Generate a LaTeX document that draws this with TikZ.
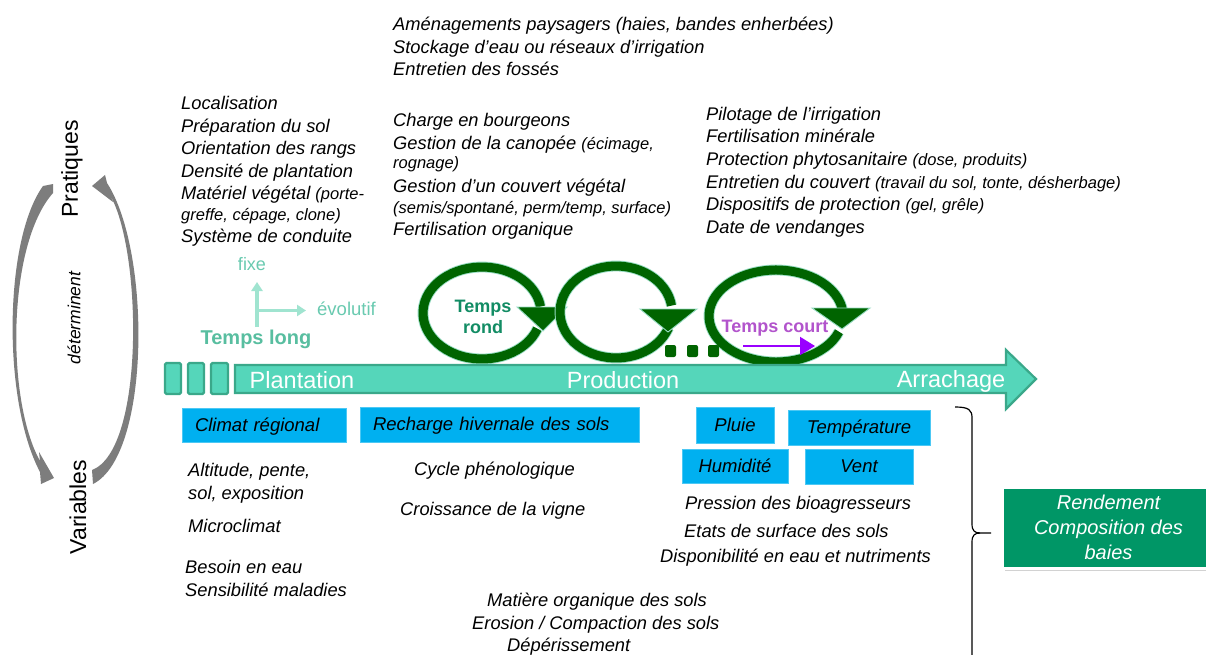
\documentclass[tikz,border=0pt]{standalone}
\usepackage{fontspec}
\setmainfont{Liberation Sans}
\usetikzlibrary{arrows.meta,shadows}
\definecolor{mint}{RGB}{85,214,186}
\definecolor{mintdark}{RGB}{58,168,138}
\definecolor{mintlight}{RGB}{160,228,208}
\definecolor{tealtxt}{RGB}{105,202,176}
\definecolor{teallong}{RGB}{88,190,160}
\definecolor{ringgreen}{RGB}{0,100,0}
\definecolor{ringedge}{RGB}{150,220,195}
\definecolor{rondtxt}{RGB}{18,140,100}
\definecolor{courttxt}{RGB}{178,84,204}
\definecolor{purplearrow}{RGB}{153,0,255}
\definecolor{bluebox}{RGB}{0,176,240}
\definecolor{resgreen}{RGB}{0,150,102}
\definecolor{arcgray}{RGB}{125,125,125}
\newcommand{\smtxt}[1]{{\fontsize{16.5}{20}\selectfont #1}}
\begin{document}
\begin{tikzpicture}[x=1pt,y=-1pt,
  lst/.style={anchor=base west, inner sep=0pt, font=\fontsize{18.3}{22}\selectfont\itshape},
  bx/.style={fill=bluebox, draw=bluebox!70!white, line width=0.6pt, inner sep=0pt,
    font=\fontsize{18.5}{22}\selectfont\itshape, text height=14.6pt, text depth=1.8pt},
  barlbl/.style={text=white, font=\fontsize{23.5}{26}\selectfont, inner sep=0pt},
  ring/.style={draw=ringedge, double=ringgreen, double distance=9pt, line width=0.9pt},
  ringhead/.style={fill=ringgreen, draw=ringedge, line width=0.9pt, line join=miter},
  stage/.style={fill=mint, draw=mintdark, line width=2.2pt},
  dotsq/.style={fill=ringgreen, rounded corners=2pt},
  sidearc/.style={fill=arcgray},
  mintarrow/.style={draw=mintlight, line width=3.5pt, -{Triangle[length=9pt,width=11pt]}},
  bracestyle/.style={draw=black, line width=1.2pt}
]
\useasboundingbox (0,0) rectangle (1206,655);
\fill[white] (0,0) rectangle (1206,655);

% ---- side cycle arrows ----
\fill[sidearc] (43,186) -- (53,184) -- (53,193) .. controls (7,245) and (6,400) .. (40,461)
  -- (39,452) -- (54,478) -- (41,484) -- (40,472) .. controls (2,400) and (4,240) .. (43,186) -- cycle;
\fill[sidearc] (92,470) -- (93,484) .. controls (151,455) and (151,250) .. (107,183)
  -- (105,175) -- (92,186) -- (113,202) -- (110,195) .. controls (142,250) and (145,450) .. (92,470) -- cycle;
\node[rotate=90, font=\fontsize{23}{26}\selectfont, inner sep=0pt] (prat) at (72,169) {Pratiques};
\node[rotate=90, font=\fontsize{23}{26}\selectfont, inner sep=0pt] (vars) at (78,507) {Variables};
\node[rotate=90, font=\fontsize{17.5}{20}\selectfont\itshape, inner sep=0pt] (det) at (74,318) {déterminent};

% ---- top text blocks ----
\node[lst] (a1) at (393,30.5) {Aménagements paysagers (haies, bandes enherbées)};
\node[lst] (a2) at (393,53.5) {Stockage d’eau ou réseaux d’irrigation};
\node[lst] (a3) at (393,75.5) {Entretien des fossés};

\node[lst] (b1) at (393,126.5) {Charge en bourgeons};
\node[lst] (b2) at (393,149.5) {Gestion de la canopée \smtxt{(écimage,}};
\node[lst] (b3) at (393,169) {\smtxt{rognage)}};
\node[lst] (b4) at (393,192.5) {Gestion d’un couvert végétal};
\node[lst] (b5) at (393,213) {\smtxt{(semis/spontané, perm/temp, surface)}};
\node[lst] (b6) at (393,235.5) {Fertilisation organique};

\node[lst] (c1) at (181,109.5) {Localisation};
\node[lst] (c2) at (181,132.5) {Préparation du sol};
\node[lst] (c3) at (181,154.5) {Orientation des rangs};
\node[lst] (c4) at (181,177.5) {Densité de plantation};
\node[lst] (c5) at (181,199.5) {Matériel végétal \smtxt{(porte-}};
\node[lst] (c6) at (181,220) {\smtxt{greffe, cépage, clone)}};
\node[lst] (c7) at (181,242.5) {Système de conduite};

\node[lst] (d1) at (706,120.5) {Pilotage de l’irrigation};
\node[lst] (d2) at (706,142.5) {Fertilisation minérale};
\node[lst] (d3) at (706,165.5) {Protection phytosanitaire \smtxt{(dose, produits)}};
\node[lst] (d4) at (706,188.5) {Entretien du couvert \smtxt{(travail du sol, tonte, désherbage)}};
\node[lst] (d5) at (706,210.5) {Dispositifs de protection \smtxt{(gel, grêle)}};
\node[lst] (d6) at (706,233.5) {Date de vendanges};

% ---- temps long ----
\coordinate (tlo) at (257,327);
\coordinate (tlc) at (257,310.5);
\coordinate (tup) at (257,282);
\coordinate (tri) at (306,310.5);
\draw[mintarrow] (tlo) -- (tup);
\draw[mintarrow] ([xshift=-1.75pt]tlc) -- (tri);
\node[text=tealtxt, font=\fontsize{18}{20}\selectfont, inner sep=0pt] (fixe) at (252,264) {fixe};
\node[text=tealtxt, font=\fontsize{18.5}{20}\selectfont, inner sep=0pt, anchor=west] (evol) at (317,309) {évolutif};
\node[text=teallong, font=\fontsize{20}{22}\selectfont\bfseries, inner sep=0pt] (tlong) at (256,339) {Temps long};

% ---- circular arrows ----
\draw[ring] (482,313) ++(20:59 and 46) arc[start angle=20, end angle=352, x radius=59, y radius=46];
\filldraw[ringhead] (517,307) -- (567,307) -- (543,331) -- cycle;
\draw[ring] (616,312) ++(20:56 and 46) arc[start angle=20, end angle=352, x radius=56, y radius=46];
\filldraw[ringhead] (640,309) -- (697,309) -- (668,332) -- cycle;
\draw[ring] (776,316) ++(20:67 and 46) arc[start angle=20, end angle=352, x radius=67, y radius=46];
\filldraw[ringhead] (812,308) -- (870,308) -- (842,329) -- cycle;
\fill[dotsq] (665,345) rectangle (676,357);
\fill[dotsq] (687,345) rectangle (698,357);
\fill[dotsq] (708,345) rectangle (719,357);
\node[text=rondtxt, font=\fontsize{18}{21}\selectfont\bfseries, align=center, inner sep=0pt] (rond) at (483,317) {Temps\\rond};
\node[text=courttxt, font=\fontsize{18}{20}\selectfont\bfseries, inner sep=0pt] (court) at (775,328) {Temps court};
\coordinate (pa) at (743,346);
\coordinate (pb) at (815,346);
\draw[draw=purplearrow, line width=2pt, -{Triangle[length=15pt,width=18pt]}] (pa) -- (pb);

% ---- main time bar ----
\draw[stage, rounded corners=1.5pt] (165,363) rectangle (181,394);
\draw[stage, rounded corners=1.5pt] (188,363) rectangle (204,394);
\draw[stage, rounded corners=1.5pt] (211,363) rectangle (228,394);
\draw[stage, line join=miter] (235,365) -- (1006,365) -- (1006,350) -- (1036,379) -- (1006,409) -- (1006,393) -- (235,393) -- cycle;
\node[barlbl] (plant) at (302,380) {Plantation};
\node[barlbl] (prod) at (623,380) {Production};
\node[barlbl] (arr) at (951,381) {Arrachage};

% ---- blue boxes ----
\node[bx, minimum width=164pt, minimum height=34pt, text width=138pt, align=left, inner xsep=13pt] (clim) at (264,425) {Climat régional};
\node[bx, minimum width=279pt, minimum height=35pt, text width=253pt, align=left, inner xsep=13pt] (rech) at (499.5,424.5) {Recharge hivernale des sols};
\node[bx, minimum width=78pt, minimum height=36pt] (pluie) at (735,425) {Pluie};
\node[bx, minimum width=142pt, minimum height=35pt] (temp) at (859,427.5) {Température};
\node[bx, minimum width=106pt, minimum height=34pt] (hum) at (735,466) {Humidité};
\node[bx, minimum width=108pt, minimum height=35pt] (vent) at (859,466.5) {Vent};

% ---- bottom texts ----
\node[lst] (e1) at (188,476.5) {Altitude, pente,};
\node[lst] (e2) at (188,499.5) {sol, exposition};
\node[lst] (e3) at (188,532.5) {Microclimat};
\node[lst] (e4) at (185,573.5) {Besoin en eau};
\node[lst] (e5) at (185,596.5) {Sensibilité maladies};

\node[lst] (f1) at (414,475.5) {Cycle phénologique};
\node[lst] (f2) at (400,515.5) {Croissance de la vigne};

\node[lst] (g1) at (487,606.5) {Matière organique des sols};
\node[lst] (g2) at (472,629.5) {Erosion / Compaction des sols};
\node[lst] (g3) at (507,651.5) {Dépérissement};

\node[lst] (h1) at (685,509.5) {Pression des bioagresseurs};
\node[lst] (h2) at (684,537.5) {Etats de surface des sols};
\node[lst] (h3) at (660,562.5) {Disponibilité en eau et nutriments};

% ---- brace and result ----
\coordinate (bt) at (955,407);
\coordinate (bm) at (980,533);
\coordinate (tip) at (991,533);
\coordinate (bb) at (972,662);
\draw[bracestyle] (bt) .. controls (969,407) and (972,410) .. (972,418) -- (972,524)
  .. controls (972,531) and (975,533) .. (bm) -- (tip);
\draw[bracestyle] (bm) .. controls (975,533) and (972,535) .. (972,542) -- (bb);
\node[fill=resgreen, draw=white, line width=3pt, minimum width=213pt, minimum height=81pt,
  text=white, align=center, font=\fontsize{20}{25}\selectfont\itshape,
  drop shadow={shadow xshift=2.5pt, shadow yshift=-2.5pt, opacity=0.35}] (res) at (1108.5,527.5)
  {Rendement\\Composition des\\baies};
\end{tikzpicture}
\end{document}
